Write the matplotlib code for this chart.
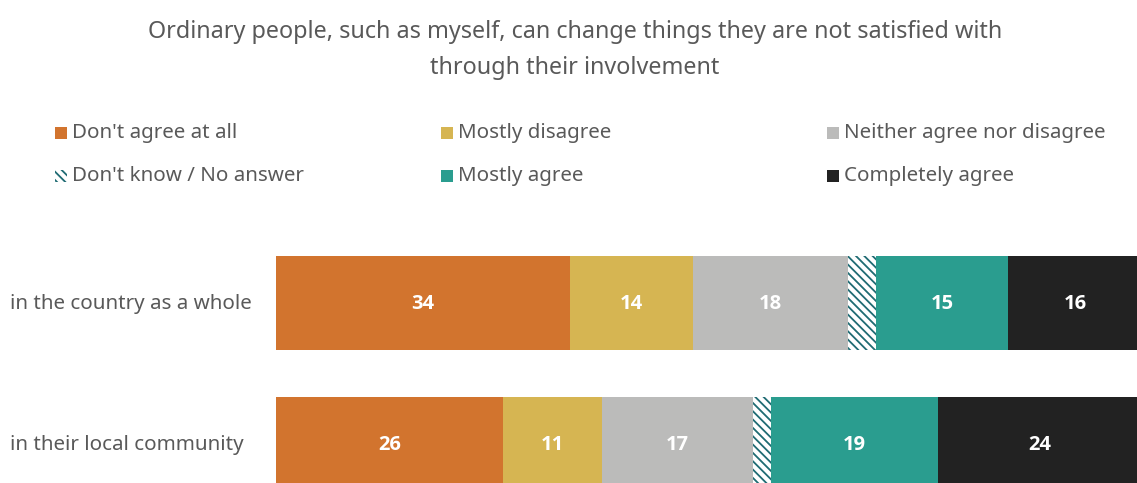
import matplotlib.pyplot as plt
from matplotlib.patches import Rectangle

plt.rcParams['font.family'] = ['Noto Sans', 'DejaVu Sans']

# survey answers, shares in percent
rows = ["in the country as a whole", "in their local community"]
answers = ["Don't agree at all", "Mostly disagree", "Neither agree nor disagree",
           "Don't know / No answer", "Mostly agree", "Completely agree"]
country = [34.0, 14.2, 17.9, 3.3, 15.2, 15.6]
local = [26.3, 11.4, 17.4, 2.1, 19.3, 23.5]

colors = ["#D2742E", "#D6B552", "#BBBBBA", "white", "#2A9D8F", "#222222"]
hatches = [None, None, None, "\\\\\\\\", None, None]
dk_color = "#1F6B73"
text_grey = "#595959"

W, H = 1137, 483
fig = plt.figure(figsize=(W / 100, H / 100), dpi=100)

# axes runs past the right and bottom edge on purpose
ax = fig.add_axes([276 / W, 0, 865 / W, 243 / H])
ax.set_xlim(0, 100)
ax.set_ylim(1.277, -0.447)
ax.axis("off")

plt.rcParams['hatch.linewidth'] = 1.3
data = [country, local]
for i, name in enumerate(answers):
    vals = [d[i] for d in data]
    lefts = [sum(d[:i]) for d in data]
    bars = ax.barh([0, 1], vals, left=lefts, height=0.667, color=colors[i],
                   hatch=hatches[i], edgecolor=dk_color if hatches[i] else colors[i],
                   linewidth=0)
    if name == "Don't know / No answer":
        continue
    for b, v in zip(bars, vals):
        ax.text(b.get_x() + b.get_width() / 2, b.get_y() + b.get_height() / 2 + 0.01,
                f"{v:.0f}", ha="center", va="center", color="white",
                fontsize=14.5, fontweight="bold", family="Open Sans")

# row labels
for y, lab in zip([304, 445], rows):
    fig.text(10 / W, 1 - y / H, lab, ha="left", va="center", color=text_grey, fontsize=14.8)

fig.text(575 / W, 1 - 50 / H,
         "Ordinary people, such as myself, can change things they are not satisfied with\nthrough their involvement",
         ha="center", va="center", color=text_grey, fontsize=16.8, linespacing=1.7)

# legend laid out in three columns
leg_x = [55, 441, 827]
leg_y = [133, 176]
for k in range(len(answers)):
    col, row = k % 3, k // 3
    x, y = leg_x[col], leg_y[row]
    sq = 12
    fig.patches.append(Rectangle((x / W, 1 - (y + sq / 2) / H), sq / W, sq / H,
                                 transform=fig.transFigure, facecolor=colors[k],
                                 hatch=hatches[k], edgecolor=dk_color if hatches[k] else colors[k],
                                 linewidth=0))
    fig.text((x + 17) / W, 1 - y / H, answers[k], ha="left", va="center",
             color=text_grey, fontsize=14.8)

fig.savefig("out.png", dpi=100)
